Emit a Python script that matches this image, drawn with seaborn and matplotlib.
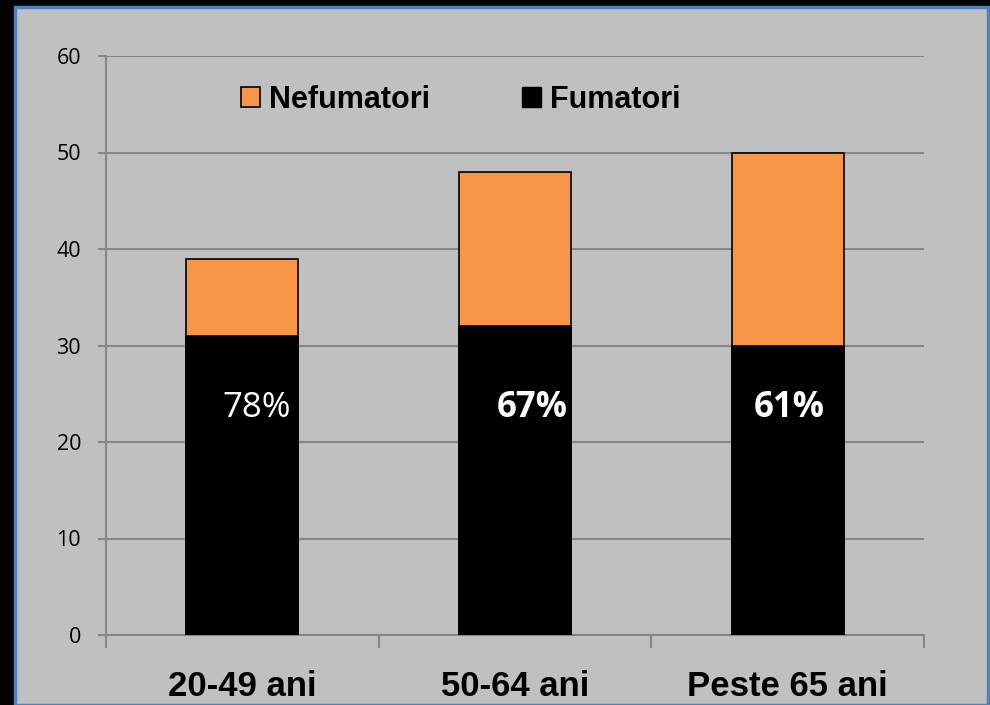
import pandas as pd
import seaborn as sns
import matplotlib.pyplot as plt
from matplotlib.patches import Patch, Rectangle

# date
grupe = ["20-49 ani", "50-64 ani", "Peste 65 ani"]
fumatori = [31, 32, 30]
nefumatori = [8, 16, 20]
procente = ["78%", "67%", "61%"]
procente_bold = [False, True, True]

df = pd.DataFrame({"grupa": grupe, "fumatori": fumatori, "nefumatori": nefumatori})
df["total"] = df["fumatori"] + df["nefumatori"]

sns.set_style("white")
plt.rcParams["font.family"] = ["DejaVu Sans"]
plt.rcParams["text.color"] = "black"

fig = plt.figure(figsize=(9.9, 7.05), dpi=100, facecolor="black")
# panoul gri cu margine albastra
fig.patches.append(Rectangle((15 / 990, 0), 973 / 990, 698 / 705, transform=fig.transFigure,
                             facecolor="#C0C0C0", edgecolor="#4F81BD", linewidth=2.5, zorder=-5))

ax = fig.add_axes([106 / 990, 70 / 705, 818 / 990, 579 / 705])
ax.set_zorder(2)
ax.set_facecolor("none")

sns.barplot(data=df, x="grupa", y="total", color="#F79646", width=0.41,
            edgecolor="black", linewidth=1.2, saturation=1, ax=ax, zorder=3)
sns.barplot(data=df, x="grupa", y="fumatori", color="black", width=0.41,
            edgecolor="black", linewidth=1.2, saturation=1, ax=ax, zorder=4)

ax.set_ylim(0, 60)
ax.set_xlim(-0.5, 2.5)
ax.set_yticks(range(0, 61, 10))
ax.yaxis.grid(True, color="#868686", linewidth=1.5, zorder=0)
ax.set_axisbelow(True)
ax.set_xlabel("")
ax.set_ylabel("")

for s in ["top", "right"]:
    ax.spines[s].set_visible(False)
for s in ["left", "bottom"]:
    ax.spines[s].set_color("#868686")
    ax.spines[s].set_linewidth(1.5)

ax.tick_params(axis="y", left=True, length=6, width=1.5, color="#868686", pad=12,
               labelsize=15.5, labelcolor="black")
for lbl in ax.get_yticklabels():
    lbl.set_family(["Open Sans", "DejaVu Sans"])
ax.tick_params(axis="x", which="major", bottom=True, length=0, pad=25, labelcolor="black")
ax.set_xticks([-0.5, 0.5, 1.5, 2.5], minor=True)
ax.tick_params(axis="x", which="minor", bottom=True, length=9.5, width=1.5, color="#868686")
for lbl in ax.get_xticklabels():
    lbl.set_family(["Liberation Sans", "DejaVu Sans"])
    lbl.set_fontweight("bold")
    lbl.set_fontsize(25)

# procente pe bare
xs = [0.054, 1.062, 2.005]
for x, txt, b in zip(xs, procente, procente_bold):
    ax.text(x, 23.5, txt, color="white", fontsize=25, ha="center", va="center",
            fontweight="bold" if b else "normal",
            family=["Open Sans", "DejaVu Sans"], zorder=5)

handles = [Patch(facecolor="#F79646", edgecolor="black", linewidth=1.2, label="Nefumatori"),
           Patch(facecolor="black", edgecolor="black", label="Fumatori")]
leg = ax.legend(handles=handles, ncol=2, loc="center left", bbox_to_anchor=(213 / 990, 605 / 705),
                bbox_transform=fig.transFigure, frameon=False, handlelength=0.63, handleheight=0.63,
                handletextpad=0.3, columnspacing=3.0, labelcolor="black",
                prop={"family": ["Liberation Sans", "DejaVu Sans"], "weight": "bold", "size": 22})

fig.savefig("out.png", dpi=100, facecolor="black")
